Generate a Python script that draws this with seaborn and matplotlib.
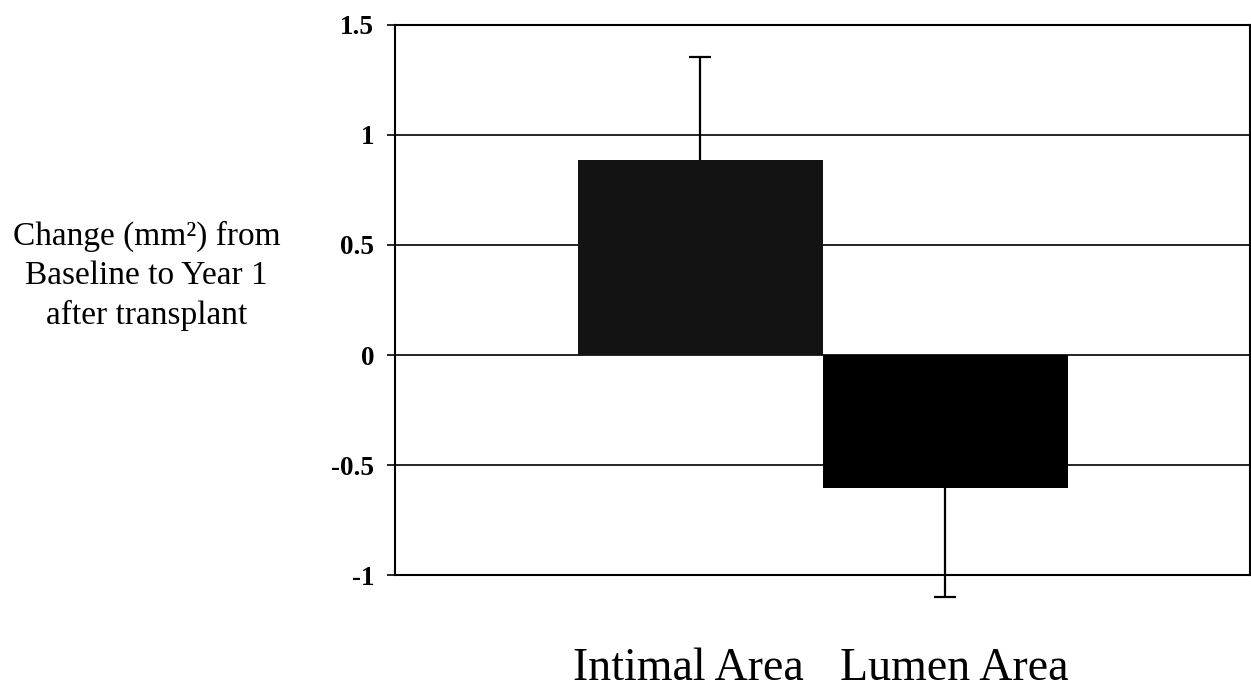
import seaborn as sns
import matplotlib.pyplot as plt
import numpy as np

categories = ["Intimal Area", "Lumen Area"]
values = [0.886, -0.605]
err_up = [0.47, 0.0]
err_down = [0.0, 0.495]
bar_colors = ["#131313", "#000000"]
yticks = [-1, -0.5, 0, 0.5, 1, 1.5]
ytick_labels = ["-1", "-0.5", "0", "0.5", "1", "1.5"]

sns.set_style("white", {"text.color": "black", "axes.labelcolor": "black",
                        "xtick.color": "black", "ytick.color": "black"})
plt.rcParams['font.family'] = ['Liberation Serif', 'DejaVu Serif']

fig = plt.figure(figsize=(12.51, 6.98), dpi=100)
ax = fig.add_axes([0.3157, 0.1762, 0.6835, 0.788])

sns.barplot(x=categories, y=values, hue=categories, palette=bar_colors,
            legend=False, width=1.0, edgecolor="none", ax=ax)

# one-sided error bars: only the outer end gets a cap
xpos = np.arange(len(categories))
vals = np.array(values)
tips = vals + np.array(err_up) - np.array(err_down)
ax.vlines(xpos, vals, tips, color="black", linewidth=1.6, clip_on=False, zorder=5)
ax.hlines(tips, xpos - 0.045, xpos + 0.045, color="black", linewidth=1.6,
          clip_on=False, zorder=5)

ax.set_xlim(-1.247, 2.243)
ax.set_ylim(-1, 1.5)
ax.set_yticks(yticks)
ax.set_yticklabels(ytick_labels, fontsize=19.5, fontweight="bold")
ax.yaxis.grid(True, color="black", linewidth=1.2)
ax.set_axisbelow(True)

# category labels sit a little apart, as in the original
ax.set_xticks([-0.05, 1.035])
ax.set_xticklabels(categories)

ax.tick_params(axis="y", direction="out", length=6, width=1.2, pad=9, left=True)
ax.tick_params(axis="x", length=0, pad=52, labelsize=33)
ax.set_xlabel("")
ax.set_ylabel("")

for s in ax.spines.values():
    s.set_visible(True)
    s.set_color("black")
    s.set_linewidth(1.5)

fig.text(0.117, 0.605, "Change (mm\u00b2) from\nBaseline to Year 1\nafter transplant",
         ha="center", va="center", fontsize=24, linespacing=1.38, color="black")

fig.savefig("out.png", dpi=100)
